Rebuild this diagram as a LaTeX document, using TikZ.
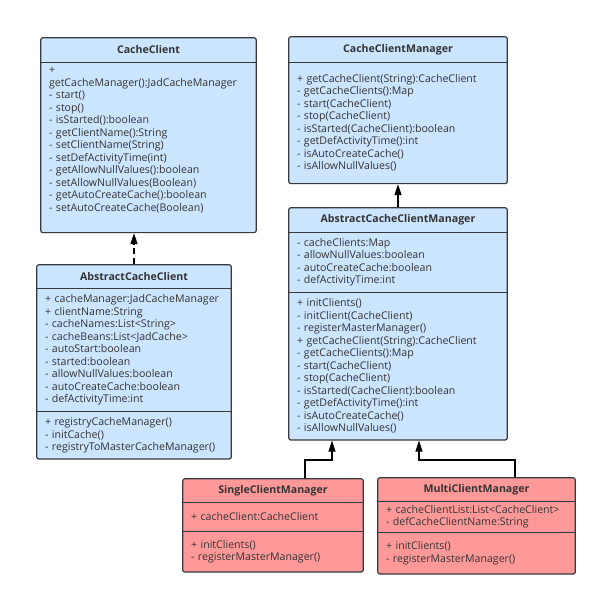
\documentclass[tikz,border=0pt]{standalone}
\usepackage{fontspec}
\setmainfont{Open Sans}
\usetikzlibrary{positioning,arrows.meta,fit,backgrounds}
\definecolor{clsblue}{HTML}{CCE5FF}
\definecolor{clsred}{HTML}{FF9999}
\definecolor{clsline}{HTML}{36393D}
\definecolor{clstext}{HTML}{333333}

\begin{document}
\begin{tikzpicture}[x=1pt, y=-1pt, font=\fontsize{10.6}{12.5}\selectfont, text=clstext,
  cls/.style={draw=clsline, line width=1.2pt, rounded corners=2pt, inner sep=0pt},
  clstitle/.style={minimum height=#1, inner sep=0pt, font=\fontsize{10.6}{12.5}\selectfont\bfseries},
  clspart/.style={minimum height=#1, inner ysep=0pt, inner xsep=8pt, align=left},
  divider/.style={draw=clsline, line width=1.2pt},
  realize/.style={draw=black, line width=1.2pt, dash pattern=on 6pt off 4pt, -{Triangle[length=11pt,width=7pt]}},
  inherit/.style={draw=black, line width=1.2pt, -{Triangle[length=11pt,width=7pt]}}]
  \useasboundingbox (0,0) rectangle (600,597);

  % CacheClient
  \node[clstitle=24pt, minimum width=215pt] (cct) at (148.5,50) {CacheClient};
  \node[clspart=170pt, text width=199pt, below=0pt of cct] (ccb) {+\\getCacheManager():JadCacheManager\\- start()\\- stop()\\- isStarted():boolean\\- getClientName():String\\- setClientName(String)\\- setDefActivityTime(int)\\- getAllowNullValues():boolean\\- setAllowNullValues(Boolean)\\- getAutoCreateCache():boolean\\- setAutoCreateCache(Boolean)\\\strut};

  % AbstractCacheClient
  \node[clstitle=23pt, minimum width=194pt] (acct) at (134,276.5) {AbstractCacheClient};
  \node[clspart=123pt, text width=178pt, below=0pt of acct] (acca) {+ cacheManager:JadCacheManager\\+ clientName:String\\- cacheNames:List<String>\\- cacheBeans:List<JadCache>\\- autoStart:boolean\\- started:boolean\\- allowNullValues:boolean\\- autoCreateCache:boolean\\- defActivityTime:int};
  \node[clspart=47pt, text width=178pt, below=0pt of acca] (accm) {+ registryCacheManager()\\- initCache()\\-~registryToMasterCacheManager()};

  % CacheClientManager
  \node[clstitle=25pt, minimum width=218pt] (ccmt) at (398,49.5) {CacheClientManager};
  \node[clspart=121pt, text width=202pt, below=0pt of ccmt] (ccmb) {+~getCacheClient(String):CacheClient\\- getCacheClients():Map\\- start(CacheClient)\\- stop(CacheClient)\\- isStarted(CacheClient):boolean\\- getDefActivityTime():int\\- isAutoCreateCache()\\- isAllowNullValues()};

  % AbstractCacheClientManager
  \node[clstitle=24pt, minimum width=218pt] (accmt) at (398,220) {AbstractCacheClientManager};
  \node[clspart=60pt, text width=202pt, below=0pt of accmt] (accma) {- cacheClients:Map\\- allowNullValues:boolean\\- autoCreateCache:boolean\\- defActivityTime:int};
  \node[clspart=147pt, text width=202pt, below=0pt of accma] (accmm) {+ initClients()\\- initClient(CacheClient)\\- registerMasterManager()\\+~getCacheClient(String):CacheClient\\- getCacheClients():Map\\- start(CacheClient)\\- stop(CacheClient)\\- isStarted(CacheClient):boolean\\- getDefActivityTime():int\\- isAutoCreateCache()\\- isAllowNullValues()};

  % SingleClientManager
  \node[clstitle=23pt, minimum width=180pt] (scmt) at (273,490.5) {SingleClientManager};
  \node[clspart=29pt, text width=164pt, below=0pt of scmt] (scma) {+ cacheClient:CacheClient};
  \node[clspart=40pt, text width=164pt, below=0pt of scma] (scmm) {+ initClients()\\- registerMasterManager()};

  % MultiClientManager
  \node[clstitle=23pt, minimum width=197pt] (mcmt) at (476.5,489.5) {MultiClientManager};
  \node[clspart=31pt, text width=181pt, below=0pt of mcmt] (mcma) {+~cacheClientList:List<CacheClient>\\-~defCacheClientName:String};
  \node[clspart=41pt, text width=181pt, below=0pt of mcma] (mcmm) {+ initClients()\\- registerMasterManager()};

  \begin{scope}[on background layer]
    \node[cls, fill=clsblue, fit=(cct)(ccb)] (cc) {};
    \node[cls, fill=clsblue, fit=(acct)(accm)] (acc) {};
    \node[cls, fill=clsblue, fit=(ccmt)(ccmb)] (ccm) {};
    \node[cls, fill=clsblue, fit=(accmt)(accmm)] (accmgr) {};
    \node[cls, fill=clsred, fit=(scmt)(scmm)] (scm) {};
    \node[cls, fill=clsred, fit=(mcmt)(mcmm)] (mcm) {};
  \end{scope}

  % dividers
  \foreach \part in {cct, acct, acca, ccmt, accmt, accma, scmt, scma, mcmt, mcma}
    \draw[divider] (\part.south west) -- (\part.south east);

  % connectors
  \coordinate (sj) at (332,460);
  \coordinate (mj) at (419,460);
  \draw[realize] (acc.north) -- (acc.north |- cc.south);
  \draw[inherit] (accmgr.north) -- (ccm.south);
  \draw[inherit] ([xshift=32pt]scm.north) |- (sj) -- (sj |- accmgr.south);
  \draw[inherit] ([xshift=38.5pt]mcm.north) |- (mj) -- (mj |- accmgr.south);
\end{tikzpicture}
\end{document}
